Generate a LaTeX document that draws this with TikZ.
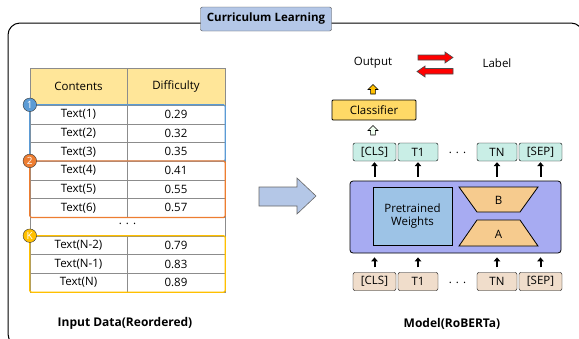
\documentclass[tikz,border=0pt]{standalone}
\usepackage{fontspec}
\setmainfont{Open Sans}
\usepackage{tikz}
\usetikzlibrary{arrows.meta}

\definecolor{gridgray}{HTML}{8C8C8C}
\definecolor{cblue}{HTML}{5B9BD5}
\definecolor{corange}{HTML}{ED7D31}
\definecolor{cyellow}{HTML}{FFC000}
\definecolor{titlefill}{HTML}{B4C7E7}
\definecolor{hdrfill}{HTML}{FFE699}
\definecolor{clsfill}{HTML}{FFD966}
\definecolor{topfill}{HTML}{C9EEE6}
\definecolor{botfill}{HTML}{F0DDCB}
\definecolor{encfill}{HTML}{A7ABF2}
\definecolor{ptfill}{HTML}{9DC3E6}
\definecolor{trapfill}{HTML}{F6CB8E}

\begin{document}
\begin{tikzpicture}[x=1pt, y=-1pt, font=\fontsize{11.5}{13}\selectfont]
    \tikzstyle{cell}=[draw=gridgray, fill=white, minimum height=18.7pt, inner sep=0pt]
    \tikzstyle{hdr}=[cell, fill=hdrfill, minimum height=37pt]
    \tikzstyle{grp}=[line width=1.2pt, rounded corners=1.5pt]
    \tikzstyle{badge}=[circle, draw=white!20!black, line width=0.4pt, inner sep=0pt, minimum size=13.5pt, text=white, font=\fontsize{10}{10}\selectfont]
    \tikzstyle{token}=[draw, rounded corners=2pt, minimum height=18pt, inner sep=0pt]
    \tikzstyle{uparr}=[line width=2pt, -{Triangle[length=4pt,width=6.5pt]}]
    \tikzstyle{blk}=[draw, line width=0.6pt, line join=miter]
    \tikzstyle{capt}=[font=\fontsize{12}{14}\selectfont\bfseries]

    \useasboundingbox (0,0) rectangle (579,338);
    \clip (0,0) rectangle (579,338);

    % moldura
    \draw[line width=1pt, rounded corners=12pt] (8,23) rectangle (583,346);
    \node[draw=black!70, fill=titlefill, rounded corners=2pt, minimum width=131pt, minimum height=24pt, inner sep=0pt, font=\fontsize{11.5}{13}\selectfont\bfseries] (title) at (266,19) {Curriculum Learning};

    % tabela
    \node[hdr, minimum width=97pt] (hc) at (78.5,86.5) {Contents};
    \node[hdr, minimum width=98pt] (hd) at (176,86.5) {Difficulty};
    \foreach \i/\t/\d in {1/Text(1)/0.29, 2/Text(2)/0.32, 3/Text(3)/0.35, 4/Text(4)/0.41, 5/Text(5)/0.55, 6/Text(6)/0.57, 8/Text(N-2)/0.79, 9/Text(N-1)/0.83, 10/Text(N)/0.89} {
        \pgfmathsetmacro\yy{95.65+18.7*\i}
        \node[cell, minimum width=97pt] (t\i) at (78.5,\yy) {\t};
        \node[cell, minimum width=98pt] (d\i) at (176,\yy) {\d};
    }
    \node (dotsrow) at (127.5,224) {. . .};
    \draw[gridgray] (t6.south west) -- (t8.north west);
    \draw[gridgray] (d6.south east) -- (d8.north east);

    % grupos
    \draw[grp, draw=cblue] (t1.north west) rectangle (d3.south east);
    \draw[grp, draw=corange] (t4.north west) rectangle (d6.south east);
    \draw[grp, draw=cyellow] (t8.north west) rectangle (d10.south east);
    \node[badge, fill=cblue] (k1) at (t1.north west) {1};
    \node[badge, fill=corange] (k2) at (t4.north west) {2};
    \node[badge, fill=cyellow] (k3) at (t8.north west) {K};

    \node[capt] (incap) at (125,323) {Input Data(Reordered)};

    % seta grande
    \draw[blk, draw=black!60, fill=titlefill] (259,187) -- (297,187) -- (297,178) -- (316,196) -- (297,214) -- (297,206) -- (259,206) -- cycle;

    % modelo
    \node[draw, fill=encfill, rounded corners=3pt, line width=0.8pt, minimum width=211pt, minimum height=72pt] (enc) at (455.5,217) {};
    \node[draw, fill=ptfill, line width=0.8pt, minimum width=79pt, minimum height=58pt, align=center, inner sep=0pt] (pw) at (412.5,216) {Pretrained\\Weights};
    \draw[fill=trapfill, line width=0.8pt] (459,187) -- (538,187) -- (520,212) -- (477,212) -- cycle;
    \draw[fill=trapfill, line width=0.8pt] (477,220) -- (520,220) -- (538,246) -- (459,246) -- cycle;
    \node (lb) at (498.5,200) {B};
    \node (la) at (498.5,234) {A};

    \foreach \k/\x/\w/\t in {1/374.5/43/[CLS], 2/418/40/T1, 3/497/40/TN, 4/540.5/43/[SEP]} {
        \node[token, fill=topfill, minimum width=\w pt] (c\k) at (\x,152) {\t};
        \node[token, fill=botfill, minimum width=\w pt] (e\k) at (\x,281.5) {\t};
        \draw[uparr, shorten <=5pt, shorten >=4pt] (e\k.north) -- (e\k.north |- enc.south);
        \draw[uparr, shorten <=4pt, shorten >=1pt] (enc.north -| c\k) -- (c\k.south);
    }
    \node (dtop) at (457.5,153) {. . .};
    \node (dbot) at (457.5,282.5) {. . .};

    \node[draw, fill=clsfill, rounded corners=1pt, line width=0.8pt, minimum width=84pt, minimum height=20pt, inner sep=0pt] (cls) at (374,110) {Classifier};
    \node (out) at (373,63) {Output};
    \node (lab) at (497,63) {Label};

    % setas pequenas
    \draw[blk, fill=green!6] (373,125.5) -- ++(5,5) -- ++(-2.6,0) -- ++(0,4.5) -- ++(-4.8,0) -- ++(0,-4.5) -- ++(-2.6,0) -- cycle;
    \draw[blk, fill=cyellow] (373,84.5) -- ++(5,5) -- ++(-2.6,0) -- ++(0,4.5) -- ++(-4.8,0) -- ++(0,-4.5) -- ++(-2.6,0) -- cycle;
    \draw[blk, draw=black!70, fill=red] (418,55) -- (445,55) -- (445,52) -- (453,57.5) -- (445,63) -- (445,60) -- (418,60) -- cycle;
    \draw[blk, draw=black!70, fill=red] (453,68.5) -- (425,68.5) -- (425,66) -- (417,71.5) -- (425,77) -- (425,74) -- (453,74) -- cycle;

    \node[capt] (mcap) at (452,324) {Model(RoBERTa)};
\end{tikzpicture}
\end{document}
